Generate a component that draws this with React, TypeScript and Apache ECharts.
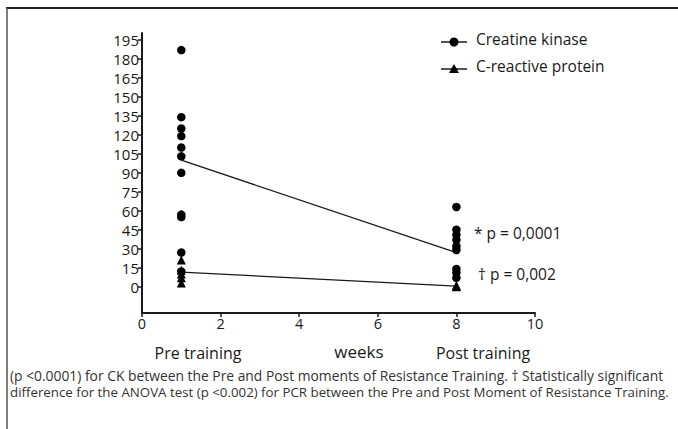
import React, { useEffect, useRef } from "react";
import * as echarts from "echarts";

const xTicks = [0, 2, 4, 6, 8, 10];
const yTickValues = [0, 15, 30, 45, 60, 75, 90, 105, 120, 135, 150, 165, 180, 195];

const ckPreValues = [187, 134, 125, 119, 110, 103, 90, 57, 55, 27, 12];
const ckPostValues = [63, 45, 41, 37, 32, 29, 14, 11, 7];
const crpPreValues = [21, 13, 10, 7, 3];
const crpPostValues = [0, 0.5, 1];
const weekPre = 1;
const weekPost = 8;
const ckMean = [100, 27];
const crpMean = [11.5, 0.5];

const legendNames = ["Creatine kinase", "C-reactive protein"];
const pLabels = ["* p = 0,0001", "† p = 0,002"];
const phaseLabels = ["Pre training", "Post training"];
const xTitle = "weeks";
const captionLines = [
  "(p <0.0001) for CK between the Pre and Post moments of Resistance Training. † Statistically significant",
  "difference for the ANOVA test (p <0.002) for PCR between the Pre and Post Moment of Resistance Training.",
];

const FONT = "'Open Sans', 'Noto Sans', sans-serif";
const INK = "#1a1a1a";

export default function App() {
  const ref = useRef<HTMLDivElement>(null);
  useEffect(() => {
    if (!ref.current) return;
    const chart = echarts.init(ref.current, null, { renderer: "svg" });
    const ckData = [
      ...ckPreValues.map((v) => [weekPre, v]),
      ...ckPostValues.map((v) => [weekPost, v]),
    ];
    const crpData = [
      ...crpPreValues.map((v) => [weekPre, v]),
      ...crpPostValues.map((v) => [weekPost, v]),
    ];
    chart.setOption({
      animation: false,
      backgroundColor: "#ffffff",
      grid: { left: 142, right: 143, top: 33, bottom: 116 },
      xAxis: {
        type: "value",
        min: 0,
        max: 10,
        interval: 2,
        axisLine: { show: true, onZero: false, lineStyle: { color: INK, width: 2 } },
        axisTick: { show: true, length: 4, lineStyle: { color: INK, width: 1.5 } },
        axisLabel: {
          color: INK,
          fontSize: 14.5,
          fontFamily: FONT,
          margin: 3,
          customValues: xTicks,
        },
        splitLine: { show: false },
      },
      yAxis: {
        type: "value",
        min: -20.8,
        max: 200.5,
        axisLine: { show: true, onZero: false, lineStyle: { color: INK, width: 2 } },
        axisTick: {
          show: true,
          length: 4,
          lineStyle: { color: INK, width: 1.5 },
          customValues: yTickValues,
        },
        axisLabel: {
          color: INK,
          fontSize: 15,
          fontFamily: FONT,
          margin: 3,
          customValues: yTickValues,
        },
        splitLine: { show: false },
      },
      series: [
        {
          type: "line",
          data: [
            [weekPre, ckMean[0]],
            [weekPost, ckMean[1]],
          ],
          symbol: "none",
          lineStyle: { color: INK, width: 1.3 },
          z: 2,
        },
        {
          type: "line",
          data: [
            [weekPre, crpMean[0]],
            [weekPost, crpMean[1]],
          ],
          symbol: "none",
          lineStyle: { color: INK, width: 1.3 },
          z: 2,
        },
        {
          name: legendNames[0],
          type: "scatter",
          data: ckData,
          symbol: "circle",
          symbolSize: 8.5,
          itemStyle: { color: "#000", opacity: 1 },
          z: 3,
        },
        {
          name: legendNames[1],
          type: "scatter",
          data: crpData,
          symbol: "triangle",
          symbolSize: 9,
          itemStyle: { color: "#000", opacity: 1 },
          z: 3,
        },
      ],
      graphic: [
        // frame
        { type: "line", shape: { x1: 6, y1: 8, x2: 678, y2: 8 }, style: { stroke: "#222", lineWidth: 2 } },
        { type: "line", shape: { x1: 7, y1: 8, x2: 7, y2: 429 }, style: { stroke: "#555", lineWidth: 1.5 } },
        // legend
        { type: "line", shape: { x1: 441, y1: 42, x2: 467, y2: 42 }, style: { stroke: INK, lineWidth: 1.5 } },
        { type: "circle", shape: { cx: 454, cy: 42, r: 4.5 }, style: { fill: "#000" } },
        {
          type: "text",
          left: 476,
          top: 31,
          style: { text: legendNames[0], fontSize: 15.5, fontFamily: FONT, fill: INK },
        },
        { type: "line", shape: { x1: 441, y1: 69, x2: 467, y2: 69 }, style: { stroke: INK, lineWidth: 1.5 } },
        {
          type: "polygon",
          shape: { points: [[454, 64], [459, 73], [449, 73]] },
          style: { fill: "#000" },
        },
        {
          type: "text",
          left: 476,
          top: 58,
          style: { text: legendNames[1], fontSize: 15.5, fontFamily: FONT, fill: INK },
        },
        // p-values
        {
          type: "text",
          left: 474,
          top: 225,
          style: { text: pLabels[0], fontSize: 15.5, fontFamily: FONT, fill: INK },
        },
        {
          type: "text",
          left: 478,
          top: 266,
          style: { text: pLabels[1], fontSize: 15.5, fontFamily: FONT, fill: INK },
        },
        // phase labels & title
        {
          type: "text",
          x: 198,
          y: 353,
          style: { text: phaseLabels[0], fontSize: 16, fontFamily: FONT, fill: INK, align: "center", verticalAlign: "middle" },
        },
        {
          type: "text",
          x: 359,
          y: 351,
          style: { text: xTitle, fontSize: 17, fontFamily: FONT, fill: INK, align: "center", verticalAlign: "middle" },
        },
        {
          type: "text",
          x: 483,
          y: 353,
          style: { text: phaseLabels[1], fontSize: 16, fontFamily: FONT, fill: INK, align: "center", verticalAlign: "middle" },
        },
        // caption
        {
          type: "text",
          x: 10,
          y: 375,
          style: { text: captionLines[0], fontSize: 13.85, fontFamily: FONT, fill: "#333", align: "left", verticalAlign: "middle" },
        },
        {
          type: "text",
          x: 10,
          y: 392,
          style: { text: captionLines[1], fontSize: 13.3, fontFamily: FONT, fill: "#333", align: "left", verticalAlign: "middle" },
        },
      ],
    });
    return () => chart.dispose();
  }, []);
  return (
    <div
      ref={ref}
      style={{ position: "absolute", left: 0, top: 0, width: 678, height: 429 }}
    />
  );
}
